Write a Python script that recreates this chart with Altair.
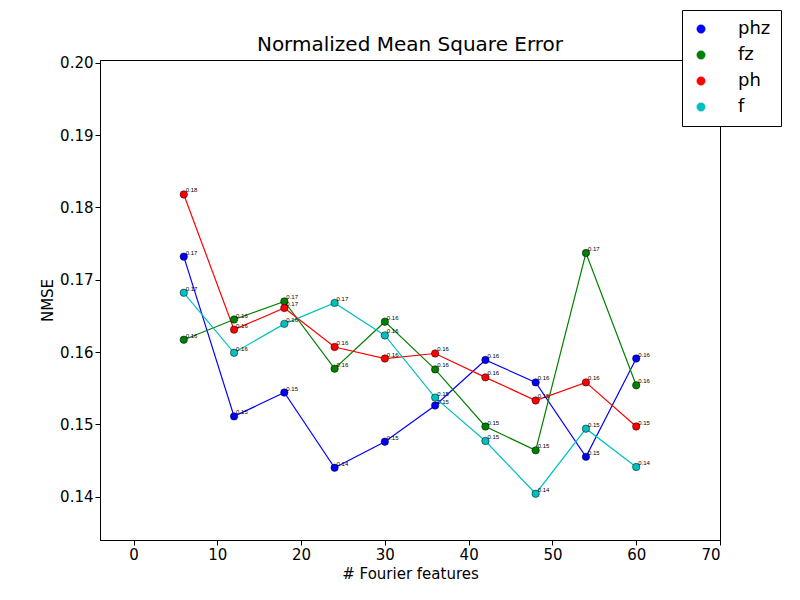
import altair as alt
import pandas as pd

xs = [6, 12, 18, 24, 30, 36, 42, 48, 54, 60]
phz = [0.1732, 0.1511, 0.1544, 0.1440, 0.1476, 0.1526, 0.1589, 0.1558, 0.1455, 0.1591]
fz = [0.1617, 0.1645, 0.1670, 0.1577, 0.1642, 0.1576, 0.1497, 0.1464, 0.1737, 0.1554]
ph = [0.1818, 0.1631, 0.1661, 0.1607, 0.1591, 0.1598, 0.1565, 0.1533, 0.1558, 0.1497]
f = [0.1682, 0.1599, 0.1639, 0.1668, 0.1623, 0.1537, 0.1477, 0.1404, 0.1494, 0.1441]
names = ["phz", "fz", "ph", "f"]
colors = ["#0000ff", "#008000", "#ff0000", "#00bfbf"]
title = "Normalized Mean Square Error"

rows = []
for n, s in zip(names, [phz, fz, ph, f]):
    for x, v in zip(xs, s):
        rows.append({"x": x, "v": v, "s": n, "lab": f"{v:.2f}"})
df = pd.DataFrame(rows)

xsc = alt.Scale(domain=[-4, 70], nice=False, zero=False)
ysc = alt.Scale(domain=[0.134, 0.2004], nice=False, zero=False)
col = alt.Color("s:N", scale=alt.Scale(domain=names, range=colors),
                sort=names,
                legend=alt.Legend(title=None, orient="none", legendX=582, legendY=-50,
                                  strokeColor="black", fillColor="white", padding=10,
                                  labelFontSize=18, labelColor="black", symbolSize=70,
                                  symbolStrokeColor="black", symbolStrokeWidth=0.5,
                                  rowPadding=8, labelFont="DejaVu Sans", labelOffset=28,
                                  labelLimit=200))
base = alt.Chart(df).encode(
    x=alt.X("x:Q", scale=xsc, title="# Fourier features",
            axis=alt.Axis(values=list(range(0, 71, 10)), grid=False)),
    y=alt.Y("v:Q", scale=ysc, title="NMSE",
            axis=alt.Axis(values=[0.14, 0.15, 0.16, 0.17, 0.18, 0.19, 0.20], format=".2f", grid=False)),
    color=col, detail="s:N")
lines = base.mark_line(strokeWidth=1.2)
pts = base.mark_point(filled=True, size=55, opacity=1, stroke="black", strokeWidth=0.5)
labs = base.mark_text(align="left", baseline="bottom", dx=2, dy=-1, fontSize=6, color="black").encode(
    text="lab:N", color=alt.value("black"))
ttl = alt.Chart(pd.DataFrame({"t": [title]})).mark_text(
    fontSize=20, font="DejaVu Sans", color="black", baseline="bottom", align="center"
).encode(text="t:N", x=alt.value(310), y=alt.value(-5))

chart = alt.layer(lines, pts, labs, ttl).properties(
    width=620, height=480,
    autosize=alt.AutoSizeParams(type="none"),
    padding={"left": 92, "top": 52, "right": 72, "bottom": 52},
).configure_axis(
    labelFontSize=15, titleFontSize=15, labelColor="black", titleColor="black",
    labelFont="DejaVu Sans", titleFont="DejaVu Sans", titleFontWeight="normal",
    domainColor="black", tickColor="black",
).configure_view(stroke="black", strokeWidth=1)

chart.save("out.html", embed_options={"renderer": "svg", "actions": False})
